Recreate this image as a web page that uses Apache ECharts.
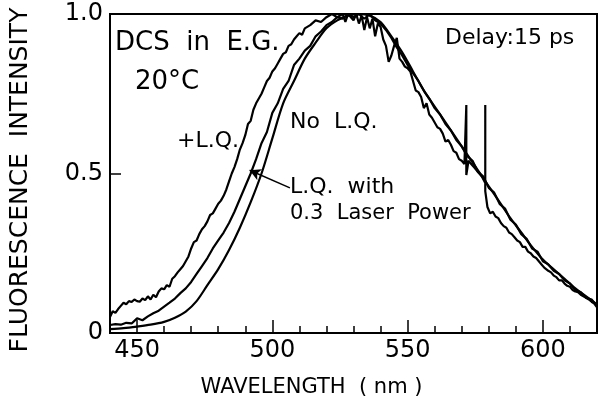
<!DOCTYPE html>
<html>
<head>
<meta charset="utf-8">
<script src="https://cdn.jsdelivr.net/npm/echarts@6/dist/echarts.min.js"></script>
<style>html,body{margin:0;padding:0;background:#fff}#c{width:600px;height:406px}</style>
</head>
<body>
<div id="c"></div>
<script>
// ---- data ----
const xTickLabels = [450, 500, 550, 600];
const yTickLabels = ['0', '0.5', '1.0'];

const noLQ_x = [440,445,450,455,460,464,468,472,476,480,484,488,492,496,500,504,508,512,516,520,524,528,532,536,540,544,548,552,556,560,564,568,572,576,580,584,588,592,596,600,604,608,612,616,620];
const noLQ_y = [0.012,0.015,0.02,0.026,0.035,0.048,0.067,0.1,0.15,0.2,0.26,0.33,0.41,0.5,0.61,0.72,0.79,0.86,0.91,0.955,0.98,0.995,1.0,0.995,0.975,0.93,0.88,0.82,0.76,0.71,0.66,0.61,0.56,0.51,0.46,0.41,0.36,0.315,0.27,0.23,0.2,0.17,0.14,0.115,0.09];

const lq03_x = [440,442,444,446,448,450,452,454,456,458,460,462,464,466,468,470,472,474,476,478,480,482,484,486,488,490,492,494,496,498,500,502,504,506,508,510,512,514,516,518,520,522,524,526,528,530,532,534,536,538,540,542,544,546,548,550,552,554,556,558,560,562,564,566,568,570,572,574,576,578,580,582,584,586,588,590,592,594,596,598,600,602,604,606,608,610,612,614,616,618,620];
const lq03_y = [0.025,0.028,0.026,0.032,0.03,0.046,0.04,0.052,0.062,0.07,0.083,0.095,0.108,0.125,0.14,0.16,0.185,0.21,0.235,0.265,0.29,0.315,0.345,0.38,0.42,0.46,0.5,0.545,0.595,0.63,0.69,0.72,0.765,0.79,0.84,0.86,0.885,0.9,0.93,0.945,0.965,0.975,0.99,0.985,1.0,0.99,1.0,0.985,1.0,0.98,0.97,0.95,0.925,0.895,0.87,0.84,0.815,0.79,0.76,0.735,0.705,0.685,0.655,0.635,0.605,0.585,0.555,0.54,0.505,0.49,0.455,0.44,0.405,0.39,0.355,0.34,0.31,0.295,0.265,0.255,0.225,0.215,0.195,0.185,0.165,0.155,0.135,0.128,0.11,0.105,0.085];

const plusLQ_x = [440,441,442,443,444,445,446,447,448,449,450,451,452,453,454,455,456,457,458,459,460,461,462,463,464,465,466,467,468,469,470,471,472,473,474,475,476,477,478,479,480,481,482,483,484,485,486,487,488,489,490,491,492,493,494,495,496,497,498,499,500,501,502,503,504,505,506,507,508,509,510,511,512,514,516,518,520,522,524,526,527,528,530,531,532,533,534,535,536,537,538,539,540,541,542,543,544,545,546,547,548,549,550,551,552,553,554,555,556,557,558,559,560,561,562,563,564,565,566,567,568,569,570,571,571.7,571.7,571.7,572.5,573.5,574.5,575.5,576.5,577.5,578.7,578.7,578.7,579.5,580.5,581.5,582.5,583.5,584.5,585.5,586.5,587.5,588.5,589.5,590.5,591.5,592.5,593.5,594.5,595.5,596.5,597.5,598.5,599.5,600.5,602,603,604,605,606,607,608,609,610,611,612,613,614,615,616,617,618,619,620];
const plusLQ_y = [0.05,0.068,0.063,0.075,0.085,0.095,0.09,0.1,0.097,0.105,0.1,0.098,0.108,0.103,0.115,0.105,0.12,0.112,0.13,0.14,0.137,0.15,0.145,0.17,0.178,0.19,0.2,0.21,0.225,0.24,0.265,0.285,0.29,0.31,0.325,0.335,0.35,0.37,0.375,0.39,0.405,0.415,0.43,0.45,0.475,0.5,0.52,0.545,0.575,0.595,0.62,0.655,0.665,0.7,0.72,0.735,0.75,0.77,0.79,0.8,0.82,0.83,0.845,0.86,0.875,0.88,0.9,0.905,0.92,0.93,0.94,0.935,0.955,0.965,0.98,0.975,0.99,1.0,0.99,1.0,0.975,1.0,0.98,1.0,0.97,0.995,0.95,0.99,0.955,0.985,0.93,0.97,0.96,0.92,0.9,0.85,0.87,0.9,0.925,0.86,0.85,0.835,0.83,0.82,0.79,0.76,0.755,0.74,0.705,0.72,0.685,0.675,0.66,0.645,0.64,0.625,0.6,0.605,0.59,0.57,0.565,0.545,0.54,0.53,0.53,0.715,0.495,0.54,0.53,0.52,0.51,0.5,0.49,0.47,0.715,0.445,0.395,0.375,0.38,0.365,0.36,0.345,0.335,0.33,0.315,0.31,0.3,0.29,0.285,0.27,0.27,0.255,0.25,0.24,0.235,0.225,0.215,0.205,0.195,0.19,0.18,0.175,0.165,0.165,0.155,0.148,0.145,0.135,0.13,0.128,0.12,0.115,0.11,0.105,0.098,0.092,0.08];

function pairs(xs, ys) { return xs.map((x, i) => [x, ys[i]]); }

const FONT = 'DejaVu Sans';
const chart = echarts.init(document.getElementById('c'), null, {renderer: 'canvas'});
const lineStyle = {color: '#000', width: 2.2};

chart.setOption({
  backgroundColor: '#fff',
  animation: false,
  grid: {left: 106, right: 2, top: 14, bottom: 73, show: true, borderColor: '#000', borderWidth: 2, backgroundColor: 'transparent'},
  xAxis: [{
    type: 'value', min: 440, max: 620, interval: 10,
    axisLine: {show: true, lineStyle: {color: '#000', width: 2}},
    axisTick: {show: true, inside: true, length: 7, lineStyle: {color: '#000', width: 1.5}},
    axisLabel: {
      color: '#000', fontFamily: FONT, fontSize: 24, margin: 6,
      formatter: v => (xTickLabels.indexOf(v) >= 0 ? String(v) : '')
    },
    splitLine: {show: false},
    name: 'WAVELENGTH  ( nm )', nameLocation: 'middle', nameGap: 44,
    nameTextStyle: {color: '#000', fontFamily: FONT, fontSize: 21, padding: [0, 84, 0, 0]}
  }, {
    type: 'value', min: 440, max: 620, position: 'bottom',
    axisLine: {show: false},
    axisTick: {show: true, inside: true, length: 13, customValues: xTickLabels, lineStyle: {color: '#000', width: 1.5}},
    axisLabel: {show: false},
    splitLine: {show: false}
  }],
  yAxis: {
    type: 'value', min: 0, max: 1, interval: 0.5,
    axisLine: {show: true, lineStyle: {color: '#000', width: 2}},
    axisTick: {show: true, inside: true, length: 11, lineStyle: {color: '#000', width: 1.5}},
    axisLabel: {
      color: '#000', fontFamily: FONT, fontSize: 24, margin: 7,
      formatter: v => yTickLabels[Math.round(v * 2)]
    },
    splitLine: {show: false},
    name: 'FLUORESCENCE  INTENSITY', nameLocation: 'middle', nameGap: 77, nameRotate: 90,
    nameTextStyle: {color: '#000', fontFamily: FONT, fontSize: 25, padding: [0, 13, 0, 0]}
  },
  series: [
    {type: 'line', name: 'No L.Q.', data: pairs(noLQ_x, noLQ_y), showSymbol: false, smooth: 0.3, lineStyle: lineStyle, silent: true},
    {type: 'line', name: 'L.Q. with 0.3 Laser Power', data: pairs(lq03_x, lq03_y), showSymbol: false, lineStyle: lineStyle, silent: true,
      markLine: {
        silent: true, symbol: ['none', 'arrow'], symbolSize: [9, 11],
        lineStyle: {color: '#000', width: 1.5, type: 'solid'}, label: {show: false},
        data: [[{coord: [506.5, 0.455]}, {coord: [491.6, 0.51]}]]
      }},
    {type: 'line', name: '+L.Q.', data: pairs(plusLQ_x, plusLQ_y), showSymbol: false, lineStyle: lineStyle, silent: true}
  ],
  graphic: [
    {type: 'text', left: 115, top: 30, style: {text: 'DCS  in  E.G.', font: '26px "DejaVu Sans"', fill: '#000'}},
    {type: 'text', left: 135, top: 69, style: {text: '20°C', font: '26px "DejaVu Sans"', fill: '#000'}},
    {type: 'text', left: 445, top: 27, style: {text: 'Delay:15 ps', font: '22px "DejaVu Sans"', fill: '#000'}},
    {type: 'text', left: 290, top: 111, style: {text: 'No  L.Q.', font: '22px "DejaVu Sans"', fill: '#000'}},
    {type: 'text', left: 177, top: 130, style: {text: '+L.Q.', font: '22px "DejaVu Sans"', fill: '#000'}},
    {type: 'text', left: 290, top: 176, style: {text: 'L.Q.  with', font: '22px "DejaVu Sans"', fill: '#000'}},
    {type: 'text', left: 290, top: 203, style: {text: '0.3  Laser  Power', font: '21px "DejaVu Sans"', fill: '#000'}}
  ]
});
</script>
</body>
</html>
